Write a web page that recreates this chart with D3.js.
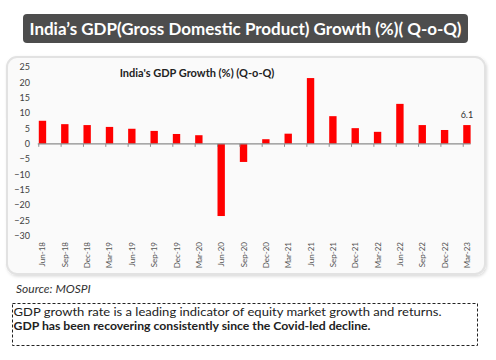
<!DOCTYPE html>
<html><head><meta charset="utf-8">
<script src="https://cdn.jsdelivr.net/npm/d3@7"></script>
<style>body{margin:0;background:#fff;}svg{display:block;}</style>
</head><body>
<svg id="c" width="496" height="360"></svg>
<script>
const categories = ["Jun-18","Sep-18","Dec-18","Mar-19","Jun-19","Sep-19","Dec-19","Mar-20","Jun-20","Sep-20","Dec-20","Mar-21","Jun-21","Sep-21","Dec-21","Mar-22","Jun-22","Sep-22","Dec-22","Mar-23"];
const growth = [7.5,6.4,6.1,5.5,4.9,4.2,3.2,2.8,-23.5,-5.9,1.5,3.3,21.4,9.0,5.1,3.9,13.0,6.1,4.5,6.1];
const yTicks = [25,20,15,10,5,0,-5,-10,-15,-20,-25,-30];
const labelled = {"Mar-23": "6.1"};
const mainTitle = "India’s GDP(Gross Domestic Product) Growth (%)( Q-o-Q)";
const chartTitle = "India's GDP Growth (%) (Q-o-Q)";
const sourceText = "Source: MOSPI";
const note1 = "GDP growth rate is a leading indicator of equity market growth and returns.";
const note2 = "GDP has been recovering consistently since the Covid-led decline.";

const svg = d3.select("#c");
const font = "Lato, 'Open Sans', sans-serif";

const defs = svg.append("defs");
const f = defs.append("filter").attr("id","sh").attr("x","-5%").attr("y","-5%").attr("width","110%").attr("height","115%");
f.append("feDropShadow").attr("dx",1).attr("dy",1.5).attr("stdDeviation",1.5).attr("flood-color","#000").attr("flood-opacity",0.15);

// Title box
svg.append("rect").attr("x",23).attr("y",14).attr("width",445).attr("height",29).attr("rx",4).attr("fill","#4d4d4d");
svg.append("text").attr("x",245.5).attr("y",34.5).attr("text-anchor","middle")
  .attr("font-family",font).attr("font-weight","bold").attr("font-size",17).attr("fill","#fff")
  .attr("textLength",432).attr("lengthAdjust","spacingAndGlyphs").text(mainTitle);

// Chart panel
svg.append("rect").attr("x",7).attr("y",57).attr("width",478).attr("height",217).attr("rx",10)
  .attr("fill","#fafafa").attr("stroke","#e2e2e2").attr("stroke-width",2).attr("filter","url(#sh)");

svg.append("text").attr("x",197).attr("y",77).attr("text-anchor","middle")
  .attr("font-family",font).attr("font-weight","bold").attr("font-size",11).attr("fill","#222")
  .text(chartTitle);

const x = d3.scaleBand().domain(categories).range([31.3, 478.1]).padding(0);
const y = d3.scaleLinear().domain([-30, 25]).range([236, 67]);
const barW = x.bandwidth() * 0.33;
const off = (x.bandwidth() - barW) / 2;

// y axis labels
const ya = svg.append("g").attr("transform","translate(30,0)")
  .call(d3.axisLeft(y).tickValues(yTicks).tickSize(0).tickPadding(0).tickFormat(d3.format("d")));
ya.select(".domain").remove();
ya.selectAll("text").attr("font-family",font).attr("font-size",9).attr("fill","#404040").attr("dy","0.3em");

// bars
svg.append("g").selectAll("rect").data(categories).join("rect")
  .attr("x", d => x(d) + off)
  .attr("width", barW)
  .attr("y", (d,i) => y(Math.max(0, growth[i])))
  .attr("height", (d,i) => Math.abs(y(growth[i]) - y(0)))
  .attr("fill","#ff0000");

// zero axis
const z = y(0);
svg.append("line").attr("x1", x(categories[0]) + off - 1).attr("x2", x(categories[categories.length-1]) + off + barW)
  .attr("y1", z).attr("y2", z).attr("stroke","#8c8c8c").attr("stroke-width",1.2);
svg.append("g").selectAll("line").data(categories).join("line")
  .attr("x1", d => x(d) + off).attr("x2", d => x(d) + off)
  .attr("y1", z).attr("y2", z + 3).attr("stroke","#8c8c8c").attr("stroke-width",1);

// x labels rotated
svg.append("g").selectAll("text").data(categories).join("text")
  .attr("transform", d => `translate(${x(d) + x.bandwidth()/2 + 3},242) rotate(-90)`)
  .attr("text-anchor","end")
  .attr("font-family",font).attr("font-size",8).attr("fill","#555")
  .text(d => d);

// data label
svg.append("g").selectAll("text").data(categories.filter(c => labelled[c])).join("text")
  .attr("x", d => x(d) + x.bandwidth()/2)
  .attr("y", d => y(growth[categories.indexOf(d)]) - 7)
  .attr("text-anchor","middle").attr("font-family",font).attr("font-size",9).attr("fill","#333")
  .text(d => labelled[d]);

// source
svg.append("text").attr("x",16).attr("y",293).attr("font-family",font).attr("font-style","italic")
  .attr("font-size",12).attr("fill","#333").text(sourceText);

// dashed box
svg.append("rect").attr("x",12.5).attr("y",303.5).attr("width",465).attr("height",42)
  .attr("fill","none").attr("stroke","#222").attr("stroke-width",1).attr("stroke-dasharray","3,2");
svg.append("text").attr("x",13.5).attr("y",315.5).attr("font-family",font).attr("font-size",12).attr("fill","#222")
  .attr("textLength",428).attr("lengthAdjust","spacingAndGlyphs").text(note1);
svg.append("text").attr("x",13.5).attr("y",329.5).attr("font-family",font).attr("font-weight","bold").attr("font-size",12).attr("fill","#222")
  .attr("textLength",357).attr("lengthAdjust","spacingAndGlyphs").text(note2);
</script>
</body></html>
